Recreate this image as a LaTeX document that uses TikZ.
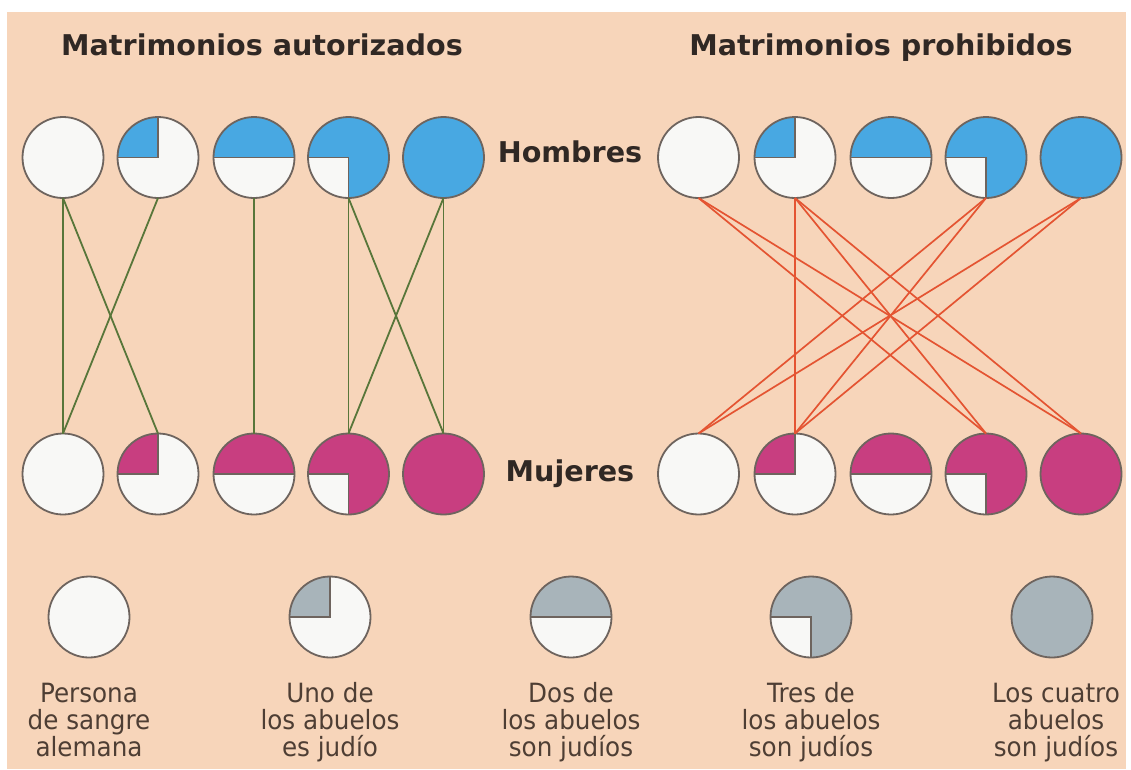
\documentclass[tikz,border=0pt]{standalone}
\usepackage{fontspec}
\newfontfamily\dejavu{DejaVu Sans}
\newfontfamily\legfont[FakeStretch=0.93]{DejaVu Sans}
\definecolor{bg}{RGB}{247,213,186}
\definecolor{outl}{RGB}{110,100,94}
\definecolor{wfill}{RGB}{248,248,246}
\definecolor{hblue}{RGB}{72,168,226}
\definecolor{mpink}{RGB}{200,62,128}
\definecolor{lgray}{RGB}{168,180,186}
\definecolor{okgreen}{RGB}{88,118,58}
\definecolor{nored}{RGB}{228,84,50}
\definecolor{ink}{RGB}{48,40,36}
\definecolor{legink}{RGB}{78,62,52}
\begin{document}
\begin{tikzpicture}[x=1pt,y=-1pt,
  person/.style={circle, draw=outl, line width=1.8pt, fill=wfill, minimum size=81pt, inner sep=0pt, outer sep=0pt},
  g0/.style={person},
  g1/.style={person, path picture={
     \fill[#1] (path picture bounding box.center) rectangle (path picture bounding box.north west);
     \draw[outl, line width=1.6pt] (path picture bounding box.west) -- (path picture bounding box.center) -- (path picture bounding box.north);}},
  g2/.style={person, path picture={
     \fill[#1] (path picture bounding box.west) rectangle (path picture bounding box.north east);
     \draw[outl, line width=1.6pt] (path picture bounding box.west) -- (path picture bounding box.east);}},
  g3/.style={person, fill=#1, path picture={
     \fill[wfill] (path picture bounding box.center) rectangle (path picture bounding box.south west);
     \draw[outl, line width=1.6pt] (path picture bounding box.west) -- (path picture bounding box.center) -- (path picture bounding box.south);}},
  g4/.style={person, fill=#1},
  okline/.style={draw=okgreen, line width=1.8pt},
  noline/.style={draw=nored, line width=1.7pt},
  titletext/.style={font=\dejavu\bfseries\fontsize{28.6}{30}\selectfont, text=ink, inner sep=0pt, anchor=base},
  legtext/.style={font=\legfont\fontsize{26.5}{27}\selectfont, text=legink, inner sep=0pt, anchor=base}
]
\useasboundingbox (0,0) rectangle (1131,769);
\fill[white] (0,0) rectangle (1131,769);
\fill[bg] (7,12) rectangle (1126,769);

% titles
\node[titletext] (tauth) at (262,55) {Matrimonios autorizados};
\node[titletext] (tproh) at (881,55) {Matrimonios prohibidos};
\node[titletext] (hom) at (570,162) {Hombres};
\node[titletext] (muj) at (570,481) {Mujeres};

% left panel
\node[g0] (ha0) at (63,157.5) {};
\node[g1=hblue] (ha1) at (158,157.5) {};
\node[g2=hblue] (ha2) at (254,157.5) {};
\node[g3=hblue] (ha3) at (348.5,157.5) {};
\node[g4=hblue] (ha4) at (443.5,157.5) {};
\node[g0] (ma0) at (63,474) {};
\node[g1=mpink] (ma1) at (158,474) {};
\node[g2=mpink] (ma2) at (254,474) {};
\node[g3=mpink] (ma3) at (348.5,474) {};
\node[g4=mpink] (ma4) at (443.5,474) {};

% right panel
\node[g0] (hp0) at (698.5,157.5) {};
\node[g1=hblue] (hp1) at (795,157.5) {};
\node[g2=hblue] (hp2) at (891,157.5) {};
\node[g3=hblue] (hp3) at (986,157.5) {};
\node[g4=hblue] (hp4) at (1081,157.5) {};
\node[g0] (mp0) at (698.5,474) {};
\node[g1=mpink] (mp1) at (795,474) {};
\node[g2=mpink] (mp2) at (891,474) {};
\node[g3=mpink] (mp3) at (986,474) {};
\node[g4=mpink] (mp4) at (1081,474) {};

% authorised marriages
\draw[okline] (ha0.south) -- (ma0.north);
\draw[okline] (ha0.south) -- (ma1.north);
\draw[okline] (ha1.south) -- (ma0.north);
\draw[okline] (ha2.south) -- (ma2.north);
\draw[okline] (ha3.south) -- (ma3.north);
\draw[okline] (ha3.south) -- (ma4.north);
\draw[okline] (ha4.south) -- (ma3.north);
\draw[okline] (ha4.south) -- (ma4.north);

% forbidden marriages
\draw[noline] (hp0.south) -- (mp3.north);
\draw[noline] (hp0.south) -- (mp4.north);
\draw[noline] (hp1.south) -- (mp1.north);
\draw[noline] (hp1.south) -- (mp3.north);
\draw[noline] (hp1.south) -- (mp4.north);
\draw[noline] (hp3.south) -- (mp0.north);
\draw[noline] (hp3.south) -- (mp1.north);
\draw[noline] (hp4.south) -- (mp0.north);
\draw[noline] (hp4.south) -- (mp1.north);

% legend
\node[g0] (lg0) at (89,617) {};
\node[g1=lgray] (lg1) at (330,617) {};
\node[g2=lgray] (lg2) at (571,617) {};
\node[g3=lgray] (lg3) at (811,617) {};
\node[g4=lgray] (lg4) at (1052,617) {};

\node[legtext] (l0a) at (89,702) {Persona};
\node[legtext] (l0b) at (89,729) {de sangre};
\node[legtext] (l0c) at (89,756) {alemana};
\node[legtext] (l1a) at (330,702) {Uno de};
\node[legtext] (l1b) at (330,729) {los abuelos};
\node[legtext] (l1c) at (330,756) {es judío};
\node[legtext] (l2a) at (571,702) {Dos de};
\node[legtext] (l2b) at (571,729) {los abuelos};
\node[legtext] (l2c) at (571,756) {son judíos};
\node[legtext] (l3a) at (811,702) {Tres de};
\node[legtext] (l3b) at (811,729) {los abuelos};
\node[legtext] (l3c) at (811,756) {son judíos};
\node[legtext] (l4a) at (1056,702) {Los cuatro};
\node[legtext] (l4b) at (1056,729) {abuelos};
\node[legtext] (l4c) at (1056,756) {son judíos};
\end{tikzpicture}
\end{document}
